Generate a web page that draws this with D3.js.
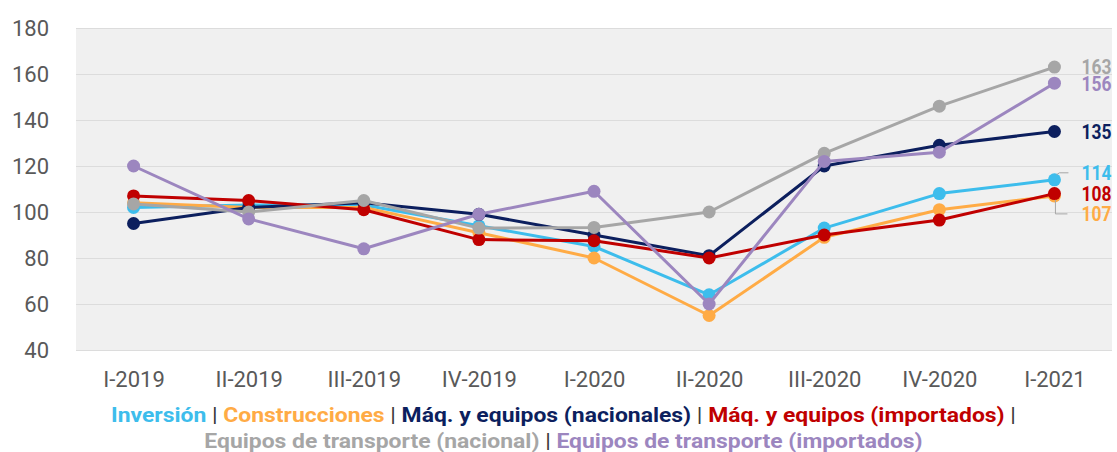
<!DOCTYPE html>
<html lang="es">
<head>
<meta charset="utf-8">
<script src="https://cdn.jsdelivr.net/npm/d3@7"></script>
<style>
  html, body { margin: 0; padding: 0; background: #ffffff; }
  svg { display: block; font-family: Roboto, "Noto Sans", sans-serif; }
</style>
</head>
<body>
<svg id="chart" width="1117" height="452"></svg>
<script>
// Quarterly index values (base = 100)
const quarters = ["I-2019", "II-2019", "III-2019", "IV-2019", "I-2020", "II-2020", "III-2020", "IV-2020", "I-2021"];

const inversion          = [102, 103, 103, 94, 85, 64, 93, 108, 114];
const construcciones     = [104, 102, 102, 91, 80, 55, 89, 101, 107];
const maqNacionales      = [95, 102, 104, 99, 90, 81, 120, 129, 135];
const maqImportados      = [107, 105, 101, 88, 87.5, 80, 90, 96.5, 108];
const transporteNacional = [103.5, 100, 105, 93, 93.3, 100, 125.5, 146, 163];
const transporteImport   = [120, 97, 84, 99, 109, 60, 122, 126, 156];

const yTicks = [40, 60, 80, 100, 120, 140, 160, 180];

const seriesNames  = ["Inversión", "Construcciones", "Máq. y equipos (nacionales)", "Máq. y equipos (importados)",
                      "Equipos de transporte (nacional)", "Equipos de transporte (importados)"];
const seriesColors = ["#3dbdec", "#ffab45", "#0c1f5e", "#c00000", "#a6a6a6", "#9c86bf"];
const seriesValues = [inversion, construcciones, maqNacionales, maqImportados, transporteNacional, transporteImport];

const series = seriesNames.map((name, i) => ({ name, color: seriesColors[i], values: seriesValues[i] }));

const svg = d3.select("#chart");
const plot = { left: 76, right: 1112, top: 28, bottom: 350 };

const x = d3.scalePoint().domain(quarters).range([plot.left, plot.right]).padding(0.5);
const y = d3.scaleLinear().domain([40, 180]).range([plot.bottom, plot.top]);

// plot background
svg.append("rect")
  .attr("x", plot.left).attr("y", plot.top)
  .attr("width", plot.right - plot.left).attr("height", plot.bottom - plot.top)
  .attr("fill", "#f0f0f0");

// horizontal grid lines
const yAxis = d3.axisLeft(y).tickValues(yTicks).tickSize(-(plot.right - plot.left)).tickPadding(27);
const gy = svg.append("g").attr("transform", `translate(${plot.left},0)`).call(yAxis);
gy.select(".domain").remove();
gy.selectAll(".tick line").attr("stroke", "#dcdcdc").attr("stroke-width", 1.2);
gy.selectAll(".tick text")
  .attr("fill", "#595959").attr("font-size", 22).attr("font-family", "Roboto, sans-serif")
  .attr("dy", "0.35em");

// category axis
const xAxis = d3.axisBottom(x).tickSize(0).tickPadding(0);
const gx = svg.append("g").attr("transform", `translate(0,${plot.bottom})`).call(xAxis);
gx.select(".domain").remove();
gx.selectAll(".tick text")
  .attr("fill", "#595959").attr("font-size", 22).attr("font-family", "Roboto, sans-serif")
  .attr("dy", null).attr("y", 36.5);

// lines and markers
const line = d3.line().x((d, i) => x(quarters[i])).y(d => y(d));

const gs = svg.append("g").selectAll("g").data(series).join("g");
gs.append("path")
  .attr("d", d => line(d.values))
  .attr("fill", "none")
  .attr("stroke", d => d.color)
  .attr("stroke-width", 3)
  .attr("stroke-linejoin", "round");
gs.selectAll("circle")
  .data(d => d.values.map((v, i) => ({ v, i, color: d.color })))
  .join("circle")
  .attr("cx", d => x(quarters[d.i]))
  .attr("cy", d => y(d.v))
  .attr("r", 6.5)
  .attr("fill", d => d.color);

// end-of-line value labels, nudged apart where they crowd
const labelNudge = { "Inversión": -7, "Construcciones": 18 };
const last = quarters.length - 1;
const xLast = x(quarters[last]);
const labelX = xLast + 27;
const lbl = svg.append("g");
series.forEach(s => {
  const v = s.values[last];
  const yv = y(v);
  const nudge = labelNudge[s.name] || 0;
  const ly = yv + nudge;
  if (Math.abs(nudge) > 3) {
    const pts = nudge < 0
      ? [[xLast + 2, yv - 5], [xLast + 5, ly], [xLast + 14, ly]]
      : [[xLast + 1, yv + 4], [xLast + 1, ly], [xLast + 13, ly]];
    lbl.append("path")
      .attr("d", d3.line()(pts))
      .attr("fill", "none").attr("stroke", "#a6a6a6").attr("stroke-width", 1);
  }
  lbl.append("text")
    .attr("x", labelX).attr("y", ly).attr("dy", "0.36em")
    .attr("fill", s.color)
    .attr("font-size", 20.5).attr("font-weight", 700)
    .attr("textLength", 30).attr("lengthAdjust", "spacingAndGlyphs")
    .text(d3.format("d")(Math.round(v)));
});

// legend: two centred rows of coloured names separated by bars
const legendRows = [[0, 1, 2, 3], [4, 5]];
const legendCenter = 563.5;
const legendBaselines = [421.5, 448];
const rows = legendRows.map((idx, r) => {
  const g = svg.append("g");
  const t = g.append("text").attr("x", 0).attr("y", 0)
    .attr("font-size", 20).attr("font-weight", 700);
  idx.forEach((si, k) => {
    t.append("tspan").attr("fill", series[si].color).text(series[si].name);
    if (k < idx.length - 1 || r === 0) {
      t.append("tspan").attr("fill", "#3a3a3a").attr("font-weight", 400).text(" | ");
    }
  });
  return { g, t };
});
// the first row ends with a trailing bar; strip its trailing space
const firstText = rows[0].t.selectAll("tspan").nodes();
d3.select(firstText[firstText.length - 1]).text(" |");

const w0 = rows[0].t.node().getComputedTextLength();
const sx = 905 / w0;
rows.forEach((row, r) => {
  const w = row.t.node().getComputedTextLength() * sx;
  row.g.attr("transform", `translate(${legendCenter - w / 2},${legendBaselines[r]}) scale(${sx},1)`);
});
</script>
</body>
</html>
